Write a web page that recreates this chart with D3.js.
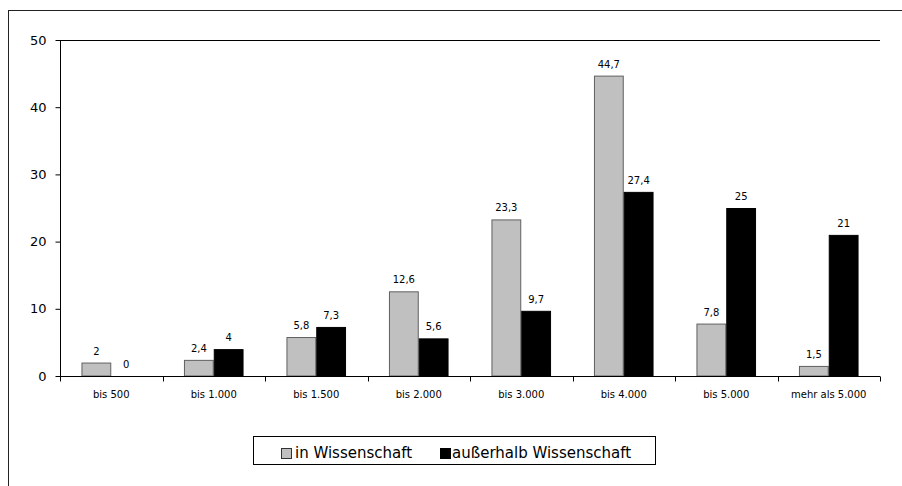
<!DOCTYPE html>
<html><head><meta charset="utf-8">
<script src="https://cdn.jsdelivr.net/npm/d3@7"></script>
<style>body{margin:0;background:#fff}svg{display:block}text{font-family:"DejaVu Sans",Verdana,sans-serif}</style>
</head><body>
<script>
const categories = ["bis 500","bis 1.000","bis 1.500","bis 2.000","bis 3.000","bis 4.000","bis 5.000","mehr als 5.000"];
const seriesNames = ["in Wissenschaft","außerhalb Wissenschaft"];
const inWissenschaft = [2,2.4,5.8,12.6,23.3,44.7,7.8,1.5];
const ausserhalb = [0,4,7.3,5.6,9.7,27.4,25,21];
const yTicks = [0,10,20,30,40,50];
const colors = ["#c0c0c0","#000000"];
const strokes = ["#606060","#000000"];

const W=902,H=486;
const svg=d3.select("body").append("svg").attr("width",W).attr("height",H);
svg.append("rect").attr("x",8.5).attr("y",10.5).attr("width",900).attr("height",500)
  .attr("fill","#fff").attr("stroke","#222");

const x0=d3.scaleBand().domain(categories).range([60,880]).paddingInner(0).paddingOuter(0);
const x1=d3.scaleBand().domain([0,1]).range([0,x0.bandwidth()]).paddingOuter(0.72).paddingInner(0);
const y=d3.scaleLinear().domain([0,50]).range([376,40]);

// top frame line
svg.append("line").attr("x1",60).attr("x2",880).attr("y1",40.5).attr("y2",40.5).attr("stroke","#000");

const data=[inWissenschaft,ausserhalb];
const fmt=v=>String(v).replace(".",",");
categories.forEach((c,i)=>{
  data.forEach((s,j)=>{
    const v=s[i];
    const bx=x0(c)+x1(j);
    if(v>0){
      svg.append("rect").attr("x",bx+0.5).attr("y",y(v)+0.5).attr("width",x1.bandwidth()-1)
        .attr("height",y(0)-y(v)-0.5).attr("fill",colors[j]).attr("stroke",strokes[j]);
    }
    svg.append("text").attr("x",bx+x1.bandwidth()/2).attr("y",y(v)-8).attr("text-anchor","middle")
      .attr("font-size",10).attr("fill","#000").text(fmt(v));
  });
});

// y axis
const ya=svg.append("g").attr("transform","translate(60.5,0)")
  .call(d3.axisLeft(y).tickValues(yTicks).tickSize(5).tickPadding(9));
ya.select(".domain").attr("stroke","#000").attr("d","M0,40V376");
ya.selectAll("text").attr("font-size",13).attr("font-family","DejaVu Sans").attr("fill","#000");
ya.selectAll("line").attr("stroke","#000");

// x axis
const xa=svg.append("g").attr("transform","translate(0,376.5)");
xa.append("line").attr("x1",60).attr("x2",880).attr("stroke","#000");
const tickXs=categories.map(c=>x0(c)).concat([880]);
xa.selectAll("line.t").data(tickXs).enter().append("line").attr("class","t")
  .attr("x1",d=>Math.round(d)+0.5).attr("x2",d=>Math.round(d)+0.5).attr("y1",0).attr("y2",5).attr("stroke","#000");
xa.selectAll("text").data(categories).enter().append("text")
  .attr("x",d=>x0(d)+x0.bandwidth()/2).attr("y",21).attr("text-anchor","middle")
  .attr("font-size",10).attr("fill","#000").text(d=>d);

// legend
const lg=svg.append("g");
lg.append("rect").attr("x",253.5).attr("y",436.5).attr("width",402).attr("height",28).attr("fill","#fff").attr("stroke","#000");
const items=[{x:281,tx:295},{x:440,tx:452}];
items.forEach((it,j)=>{
  lg.append("rect").attr("x",it.x+0.5).attr("y",448.5).attr("width",10).attr("height",10)
    .attr("fill",colors[j]).attr("stroke",strokes[j]==="#000000"?"#000":"#333");
  lg.append("text").attr("x",it.tx).attr("y",458).attr("font-size",15).attr("fill","#000").text(seriesNames[j]);
});
</script>
</body></html>
